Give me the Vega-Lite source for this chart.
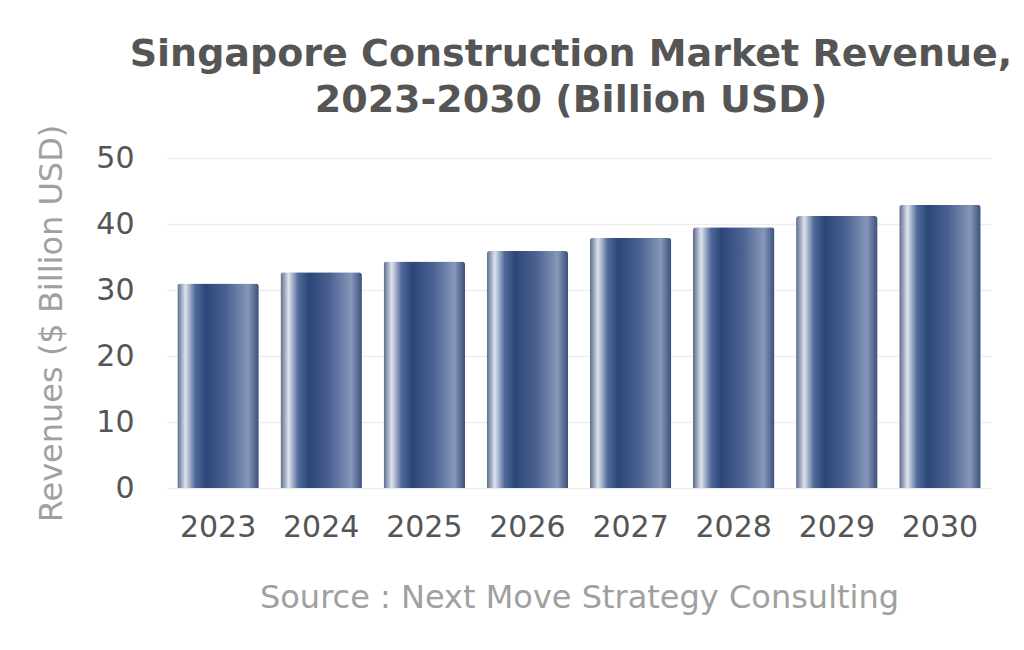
{
  "$schema": "https://vega.github.io/schema/vega-lite/v6.json",
  "width": 824,
  "height": 330,
  "padding": {"left": 35, "top": 36, "right": 32, "bottom": 10},
  "background": "white",
  "title": {
    "text": ["Singapore Construction Market Revenue,", "2023-2030 (Billion USD)"],
    "font": "DejaVu Sans",
    "fontSize": 38,
    "fontWeight": "bold",
    "color": "#555555",
    "anchor": "middle",
    "dx": -8,
    "lineHeight": 46,
    "offset": 4
  },
  "data": {
    "values": [
      {"year": "2023", "revenue": 31.0},
      {"year": "2024", "revenue": 32.7},
      {"year": "2025", "revenue": 34.3},
      {"year": "2026", "revenue": 35.9},
      {"year": "2027", "revenue": 37.9},
      {"year": "2028", "revenue": 39.5},
      {"year": "2029", "revenue": 41.2},
      {"year": "2030", "revenue": 42.9}
    ]
  },
  "mark": {
    "type": "bar",
    "cornerRadiusTopLeft": 3,
    "cornerRadiusTopRight": 3,
    "color": {
      "gradient": "linear",
      "x1": 0, "x2": 1, "y1": 0, "y2": 0,
      "stops": [
        {"offset": 0, "color": "#5a6a8c"},
        {"offset": 0.1, "color": "#dde3ec"},
        {"offset": 0.22, "color": "#51699a"},
        {"offset": 0.35, "color": "#2c4679"},
        {"offset": 0.6, "color": "#4a6190"},
        {"offset": 0.87, "color": "#8797ba"},
        {"offset": 1, "color": "#3b4f7a"}
      ]
    }
  },
  "encoding": {
    "x": {
      "field": "year",
      "type": "ordinal",
      "title": "Source : Next Move Strategy Consulting",
      "scale": {"paddingInner": 0.21, "paddingOuter": 0.1},
      "axis": {
        "labelAngle": 0,
        "labelFont": "DejaVu Sans",
        "labelFontSize": 30,
        "labelColor": "#555555",
        "labelPadding": 24,
        "ticks": false,
        "domain": false,
        "titleFont": "DejaVu Sans",
        "titleFontSize": 32,
        "titleFontWeight": "normal",
        "titleColor": "#a0a0a0",
        "titlePadding": 40
      }
    },
    "y": {
      "field": "revenue",
      "type": "quantitative",
      "title": "Revenues ($ Billion USD)",
      "scale": {"domain": [0, 50]},
      "axis": {
        "values": [0, 10, 20, 30, 40, 50],
        "labelFont": "DejaVu Sans",
        "labelFontSize": 30,
        "labelColor": "#555555",
        "labelPadding": 33,
        "ticks": false,
        "domain": false,
        "gridColor": "#eeeeee",
        "gridWidth": 1.5,
        "titleFont": "DejaVu Sans",
        "titleFontSize": 32,
        "titleFontWeight": "normal",
        "titleColor": "#a0a0a0",
        "titlePadding": 27
      }
    }
  },
  "config": {
    "view": {"stroke": null}
  }
}
